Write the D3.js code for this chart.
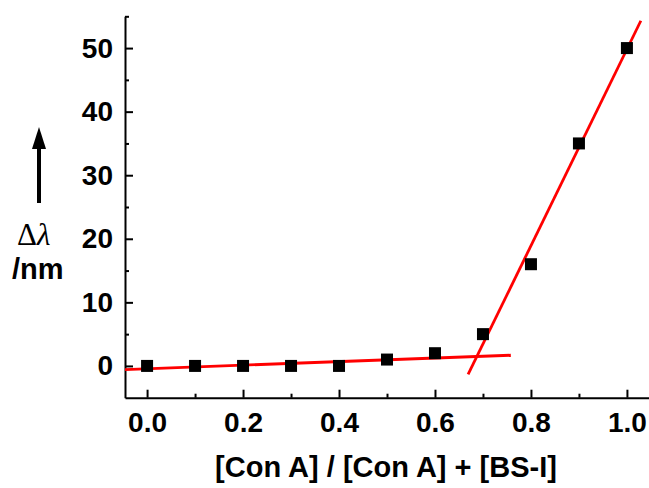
<!DOCTYPE html>
<meta charset="utf-8">
<style>
body {
  margin: 0;
  background: #fff;
}
text {
  font-family: "Liberation Sans", Arial, sans-serif;
  font-weight: bold;
  fill: #000;
}
.axis path, .axis line {
  stroke: #000;
  stroke-width: 2;
}
.fit {
  fill: none;
  stroke: #ff0000;
  stroke-width: 2.8;
}
</style>
<body>
<script src="https://cdn.jsdelivr.net/npm/d3@7"></script>
<script>

var width = 649,
    height = 488;

// measured points
var ratio = [0.0, 0.1, 0.2, 0.3, 0.4, 0.5, 0.6, 0.7, 0.8, 0.9, 1.0];
var shift = [0, 0, 0, 0, 0, 1, 2, 5, 16, 35, 50];

// the two red fit lines, ends
var fitLow = [{x: -0.046, y: -0.57}, {x: 0.758, y: 1.68}];
var fitHigh = [{x: 0.669, y: -1.34}, {x: 1.029, y: 54.3}];

var xTicks = [0.0, 0.2, 0.4, 0.6, 0.8, 1.0];
var xMinor = [0.1, 0.3, 0.5, 0.7, 0.9];
var yTicks = [0, 10, 20, 30, 40, 50];
var yMinor = [5, 15, 25, 35, 45, 55];

var x = d3.scaleLinear().domain([-0.046, 1.046]).range([125, 649]);
var y = d3.scaleLinear().domain([-5, 55]).range([397.7, 16.3]);

var svg = d3.select("body").append("svg")
    .attr("width", width)
    .attr("height", height);

var line = d3.line()
    .x(function(d) { return x(d.x); })
    .y(function(d) { return y(d.y); });

// minor ticks first, axes on top
svg.append("g")
    .attr("class", "axis")
    .attr("transform", "translate(0," + y(-5) + ")")
    .call(d3.axisBottom(x).tickValues(xMinor).tickSize(-4).tickFormat(""))
    .select(".domain").remove();

svg.append("g")
    .attr("class", "axis")
    .attr("transform", "translate(" + x(-0.046) + ",0)")
    .call(d3.axisLeft(y).tickValues(yMinor).tickSize(-4).tickFormat(""))
    .select(".domain").remove();

var gx = svg.append("g")
    .attr("class", "axis")
    .attr("transform", "translate(0," + y(-5) + ")")
    .call(d3.axisBottom(x).tickValues(xTicks).tickSizeInner(-8).tickSizeOuter(0)
      .tickPadding(14).tickFormat(d3.format(".1f")));

gx.selectAll("text")
    .style("font-size", "28px")
    .attr("font-family", null);

var gy = svg.append("g")
    .attr("class", "axis")
    .attr("transform", "translate(" + x(-0.046) + ",0)")
    .call(d3.axisLeft(y).tickValues(yTicks).tickSizeInner(-8).tickSizeOuter(0)
      .tickPadding(12));

gy.selectAll("text")
    .style("font-size", "28px")
    .attr("font-family", null);

// fit lines
svg.selectAll(".fit")
    .data([fitLow, fitHigh])
  .enter().append("path")
    .attr("class", "fit")
    .attr("d", line);

// points
var s = 12;
svg.selectAll(".point")
    .data(ratio)
  .enter().append("rect")
    .attr("class", "point")
    .attr("x", function(d) { return x(d) - s / 2; })
    .attr("y", function(d, i) { return y(shift[i]) - s / 2; })
    .attr("width", s)
    .attr("height", s)
    .attr("fill", "#000");

// x title
svg.append("text")
    .attr("x", 386)
    .attr("y", 477)
    .attr("text-anchor", "middle")
    .style("font-size", "29px")
    .text("[Con A] / [Con A] + [BS-I]");

// y title with arrow
svg.append("line")
    .attr("x1", 39).attr("x2", 39)
    .attr("y1", 203).attr("y2", 145)
    .attr("stroke", "#000")
    .attr("stroke-width", 4);

svg.append("path")
    .attr("d", "M39,127 L46,149 L32,149 Z")
    .attr("fill", "#000");

var lab = svg.append("text")
    .attr("x", 17)
    .attr("y", 245)
    .style("font-family", "'Liberation Serif', serif")
    .style("font-weight", "normal")
    .style("font-size", "31px");
lab.append("tspan").text("\u0394");
lab.append("tspan").style("font-style", "italic").text("\u03bb");

svg.append("text")
    .attr("x", 12)
    .attr("y", 279)
    .style("font-size", "29px")
    .text("/nm");

</script>
